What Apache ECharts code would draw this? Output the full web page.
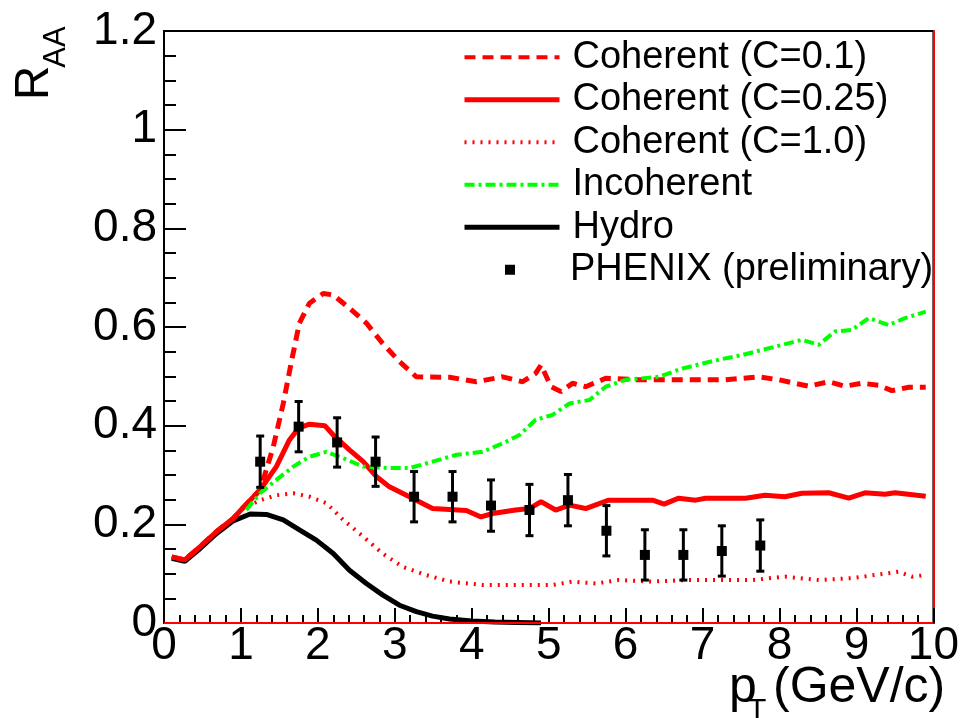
<!DOCTYPE html>
<html>
<head>
<meta charset="utf-8">
<title>R_AA vs pT</title>
<script src="https://cdn.jsdelivr.net/npm/echarts@6/dist/echarts.min.js"></script>
<style>
  html, body { margin: 0; padding: 0; background: #fff; }
  #main { width: 962px; height: 718px; }
</style>
</head>
<body>
<div id="main"></div>
<script>
// PHENIX (preliminary) points
const phenixX = [1.25, 1.75, 2.25, 2.75, 3.25, 3.75, 4.25, 4.75, 5.25, 5.75, 6.25, 6.75, 7.25, 7.75]
const phenixY = [0.327, 0.398, 0.366, 0.327, 0.256, 0.256, 0.238, 0.229, 0.249, 0.187, 0.138, 0.138, 0.146, 0.157]
const phenixErr = [0.052, 0.051, 0.050, 0.050, 0.051, 0.051, 0.052, 0.052, 0.052, 0.051, 0.051, 0.051, 0.051, 0.052]

// Coherent (C=0.1) - dashed
const c01X = [0.1, 0.27, 0.47, 0.68, 0.9, 1.0, 1.25, 1.42, 1.55, 1.66, 1.76, 1.89, 2.07, 2.2, 2.41, 2.63, 2.84, 3.06, 3.28, 3.71, 4.06, 4.4, 4.66, 4.83, 4.9, 5.03, 5.16, 5.31, 5.48, 5.74, 6.17, 6.78, 7.3, 7.73, 7.99, 8.38, 8.64, 8.85, 9.07, 9.29, 9.46, 9.68, 9.9]
const c01Y = [0.134, 0.128, 0.155, 0.185, 0.212, 0.229, 0.27, 0.357, 0.445, 0.533, 0.608, 0.648, 0.668, 0.665, 0.638, 0.608, 0.567, 0.53, 0.499, 0.498, 0.489, 0.499, 0.489, 0.506, 0.523, 0.479, 0.469, 0.486, 0.479, 0.496, 0.493, 0.493, 0.493, 0.499, 0.493, 0.48, 0.489, 0.48, 0.486, 0.482, 0.471, 0.478, 0.478]

// Coherent (C=0.25) - solid
const c025X = [0.1, 0.27, 0.47, 0.68, 0.9, 1.0, 1.25, 1.46, 1.63, 1.75, 1.89, 2.09, 2.2, 2.41, 2.59, 2.76, 2.93, 3.19, 3.49, 3.93, 4.12, 4.27, 4.57, 4.75, 4.9, 5.09, 5.27, 5.48, 5.78, 6.35, 6.5, 6.69, 6.91, 7.04, 7.56, 7.81, 8.07, 8.29, 8.64, 8.9, 9.11, 9.37, 9.5, 9.9]
const c025Y = [0.134, 0.128, 0.155, 0.185, 0.212, 0.229, 0.27, 0.317, 0.371, 0.395, 0.403, 0.40, 0.381, 0.351, 0.327, 0.297, 0.276, 0.256, 0.232, 0.228, 0.215, 0.222, 0.229, 0.232, 0.246, 0.229, 0.239, 0.232, 0.249, 0.249, 0.241, 0.253, 0.249, 0.253, 0.253, 0.259, 0.256, 0.263, 0.264, 0.253, 0.264, 0.261, 0.264, 0.257]

// Coherent (C=1.0) - dotted
const c10X = [0.1, 0.27, 0.47, 0.68, 0.9, 1.0, 1.07, 1.25, 1.46, 1.68, 1.89, 2.11, 2.33, 2.59, 2.84, 3.1, 3.41, 3.71, 4.14, 4.62, 5.05, 5.31, 5.61, 5.91, 6.35, 6.78, 7.64, 8.07, 8.51, 8.94, 9.37, 9.55, 9.72, 9.9]
const c10Y = [0.134, 0.128, 0.155, 0.185, 0.212, 0.229, 0.235, 0.249, 0.259, 0.263, 0.256, 0.243, 0.209, 0.175, 0.141, 0.114, 0.097, 0.084, 0.077, 0.077, 0.077, 0.084, 0.08, 0.087, 0.084, 0.087, 0.087, 0.094, 0.087, 0.091, 0.1, 0.104, 0.094, 0.097]

// Incoherent - dash-dot
const incX = [1.07, 1.25, 1.46, 1.68, 1.89, 2.11, 2.33, 2.59, 2.93, 3.19, 3.49, 3.8, 4.14, 4.4, 4.62, 4.83, 5.05, 5.27, 5.53, 5.74, 6.0, 6.43, 6.74, 7.0, 7.25, 7.51, 7.99, 8.29, 8.51, 8.72, 8.94, 9.16, 9.42, 9.63, 9.9]
const incY = [0.229, 0.263, 0.29, 0.317, 0.337, 0.347, 0.334, 0.317, 0.314, 0.314, 0.327, 0.341, 0.347, 0.364, 0.381, 0.412, 0.422, 0.445, 0.452, 0.479, 0.493, 0.499, 0.516, 0.526, 0.535, 0.543, 0.562, 0.574, 0.564, 0.591, 0.594, 0.618, 0.604, 0.618, 0.631]

// Hydro - black solid
const hydroX = [0.1, 0.27, 0.47, 0.68, 0.9, 1.12, 1.33, 1.55, 1.76, 1.98, 2.2, 2.41, 2.63, 2.84, 3.06, 3.28, 3.49, 3.71, 4.0, 4.3, 4.6, 4.9]
const hydroY = [0.131, 0.125, 0.151, 0.181, 0.207, 0.221, 0.22, 0.209, 0.189, 0.168, 0.141, 0.107, 0.08, 0.057, 0.036, 0.023, 0.014, 0.008, 0.004, 0.002, 0.001, 0.0]

const legendNames = ['Coherent (C=0.1)', 'Coherent (C=0.25)', 'Coherent (C=1.0)', 'Incoherent', 'Hydro', 'PHENIX (preliminary)']

const FONT = 'Liberation Sans'
const RED = '#ff0000'
const GREEN = '#00ff00'

function pairs(xs, ys) {
  return xs.map((x, i) => [x, ys[i]])
}

const legendText = { color: '#000', fontFamily: FONT, fontSize: 38, lineHeight: 42.5 }
const legendTop = 36

const chart = echarts.init(document.getElementById('main'))
chart.setOption({
  animation: false,
  backgroundColor: '#fff',
  grid: {
    left: 164, right: 27, top: 31, bottom: 95,
    show: true, borderColor: '#000', borderWidth: 2, backgroundColor: 'transparent'
  },
  xAxis: {
    type: 'value', min: 0, max: 10, interval: 1,
    axisLine: { show: true, onZero: false, lineStyle: { color: '#000', width: 2 } },
    axisTick: { show: true, inside: true, length: 15, lineStyle: { color: '#000', width: 2 } },
    minorTick: { show: true, splitNumber: 5, length: 8, lineStyle: { color: '#000', width: 2 } },
    axisLabel: { color: '#000', fontFamily: FONT, fontSize: 46, margin: 0 },
    splitLine: { show: false }
  },
  yAxis: [{
    type: 'value', min: 0, max: 1.2, interval: 0.2,
    axisLine: { show: true, lineStyle: { color: '#000', width: 2 } },
    axisTick: { show: true, inside: true, length: 22, lineStyle: { color: '#000', width: 2 } },
    minorTick: { show: true, splitNumber: 4, length: 12, lineStyle: { color: '#000', width: 2 } },
    axisLabel: { color: '#000', fontFamily: FONT, fontSize: 46, margin: 7 },
    splitLine: { show: false }
  }, {
    type: 'value', min: 0, max: 1.2, position: 'right',
    axisLine: { show: true, lineStyle: { color: RED, width: 2 } },
    axisTick: { show: false }, axisLabel: { show: false }, splitLine: { show: false }
  }],
  legend: [{
    orient: 'vertical', left: 462, top: legendTop, padding: 0,
    itemWidth: 95, itemHeight: 10, itemGap: 0,
    textStyle: Object.assign({ padding: [0, 0, 0, 8] }, legendText),
    data: [
      { name: legendNames[0], itemStyle: { opacity: 0 }, lineStyle: { width: 4 } },
      { name: legendNames[1], itemStyle: { opacity: 0 }, lineStyle: { width: 5 } },
      { name: legendNames[2], itemStyle: { opacity: 0 }, lineStyle: { width: 4 } },
      { name: legendNames[3], itemStyle: { opacity: 0 }, lineStyle: { width: 4 } },
      { name: legendNames[4], itemStyle: { opacity: 0 }, lineStyle: { width: 5 } }
    ]
  }, {
    // PHENIX marker sits alone in the middle of the icon column
    orient: 'vertical', left: 505, top: legendTop + 5 * 42.5, padding: 0,
    itemWidth: 10, itemHeight: 10, itemGap: 0,
    textStyle: Object.assign({ padding: [0, 0, 0, 50] }, legendText),
    data: [{ name: legendNames[5], icon: 'rect', itemStyle: { color: '#000', opacity: 1 } }]
  }],
  graphic: [
    { type: 'text', x: 35, y: 83, rotation: Math.PI / 2,
      style: { text: 'R', fontFamily: FONT, fontSize: 48, fill: '#000', align: 'center', verticalAlign: 'middle' } },
    { type: 'text', x: 56, y: 47, rotation: Math.PI / 2,
      style: { text: 'AA', fontFamily: FONT, fontSize: 31, fill: '#000', align: 'center', verticalAlign: 'middle' } },
    { type: 'text', x: 729, y: 688,
      style: { text: 'p', fontFamily: FONT, fontSize: 50, fill: '#000', align: 'left', verticalAlign: 'middle' } },
    { type: 'text', x: 748, y: 711,
      style: { text: 'T', fontFamily: FONT, fontSize: 30, fill: '#000', align: 'left', verticalAlign: 'middle' } },
    { type: 'text', x: 773, y: 688,
      style: { text: '(GeV/c)', fontFamily: FONT, fontSize: 50, fill: '#000', align: 'left', verticalAlign: 'middle' } }
  ],
  series: [
    {
      name: legendNames[4], type: 'line', data: pairs(hydroX, hydroY),
      symbol: 'none',
      lineStyle: { color: '#000', width: 5 }, itemStyle: { color: '#000' }
    },
    {
      name: legendNames[2], type: 'line', data: pairs(c10X, c10Y),
      symbol: 'none',
      lineStyle: { color: RED, width: 4, type: [2, 6] }, itemStyle: { color: RED },
      markLine: {
        silent: true, symbol: 'none', label: { show: false },
        lineStyle: { color: RED, type: 'solid', width: 2 },
        data: [{ yAxis: 0 }]
      }
    },
    {
      name: legendNames[1], type: 'line', data: pairs(c025X, c025Y),
      symbol: 'none',
      lineStyle: { color: RED, width: 5 }, itemStyle: { color: RED }
    },
    {
      name: legendNames[0], type: 'line', data: pairs(c01X, c01Y),
      symbol: 'none',
      lineStyle: { color: RED, width: 5, type: [11, 7] }, itemStyle: { color: RED }
    },
    {
      name: legendNames[3], type: 'line', data: pairs(incX, incY),
      symbol: 'none',
      lineStyle: { color: GREEN, width: 4, type: [10, 4, 3, 4] }, itemStyle: { color: GREEN }
    },
    {
      name: 'errors', type: 'custom',
      data: phenixX.map((x, i) => [x, phenixY[i] - phenixErr[i], phenixY[i] + phenixErr[i]]),
      encode: { x: 0, y: [1, 2] },
      renderItem(params, api) {
        const lo = api.coord([api.value(0), api.value(1)])
        const hi = api.coord([api.value(0), api.value(2)])
        const cap = 4
        const st = { stroke: '#000', lineWidth: 3 }
        return {
          type: 'group',
          children: [
            { type: 'line', shape: { x1: lo[0], y1: lo[1], x2: hi[0], y2: hi[1] }, style: st },
            { type: 'line', shape: { x1: lo[0] - cap, y1: lo[1], x2: lo[0] + cap, y2: lo[1] }, style: st },
            { type: 'line', shape: { x1: hi[0] - cap, y1: hi[1], x2: hi[0] + cap, y2: hi[1] }, style: st }
          ]
        }
      },
      z: 5
    },
    {
      name: legendNames[5], type: 'scatter', data: pairs(phenixX, phenixY),
      symbol: 'rect', symbolSize: 10,
      itemStyle: { color: '#000', opacity: 1 }, z: 6
    }
  ]
})
</script>
</body>
</html>
